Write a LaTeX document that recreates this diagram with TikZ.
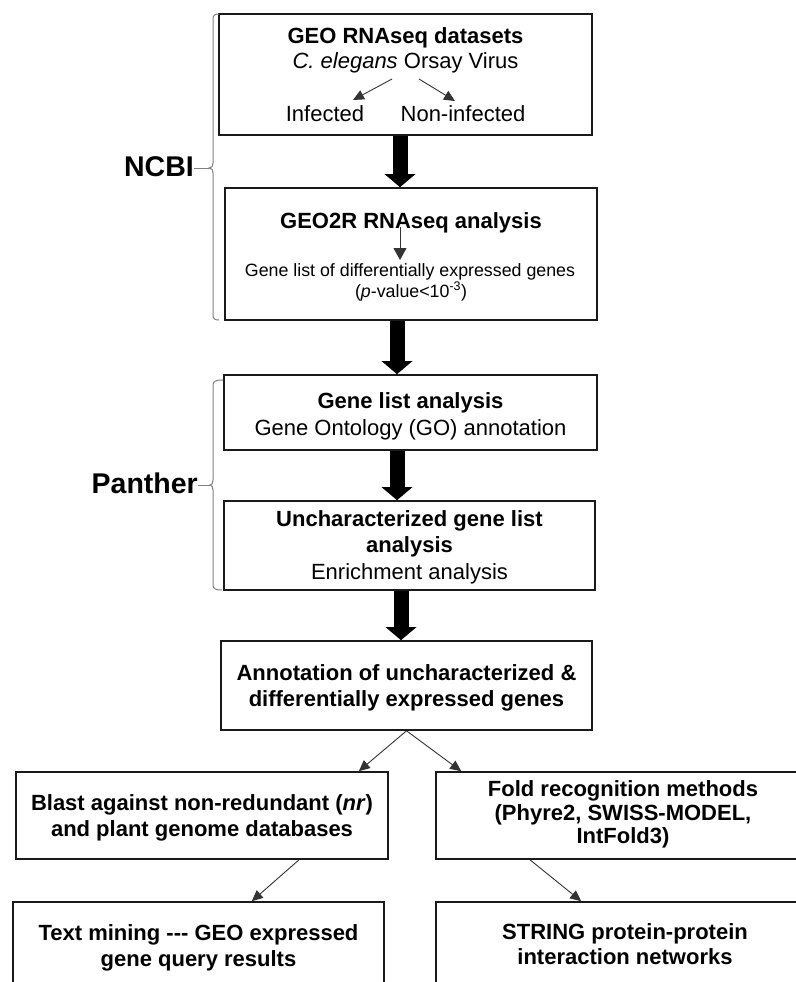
\documentclass[tikz,border=0pt]{standalone}
\usepackage{fontspec}
\setmainfont{Liberation Sans}
\usetikzlibrary{arrows.meta,calc}
\definecolor{boxline}{HTML}{1A1A1A}
\definecolor{bracegray}{HTML}{808080}
\definecolor{conn}{HTML}{333333}
\tikzset{
  box/.style={draw=boxline, line width=1.6pt, inner sep=0pt, fill=white},
  txt/.style={inner sep=0pt, anchor=base, font=\fontsize{22}{26}\selectfont},
  ttl/.style={inner sep=0pt, anchor=base, font=\fontsize{22}{26}\selectfont\bfseries},
  small/.style={inner sep=0pt, anchor=base, font=\fontsize{17.8}{21}\selectfont},
  lbl/.style={inner sep=0pt, anchor=base east, font=\fontsize{28.5}{30}\selectfont\bfseries},
  bigarrow/.style={draw=black, line width=15pt, -{Triangle[width=30pt,length=13pt]}},
  thinarrow/.style={draw=conn, line width=0.9pt, -{Triangle[width=10pt,length=11pt]}},
  bracepath/.style={draw=bracegray, line width=1pt},
}
\begin{document}
\begin{tikzpicture}[x=1pt,y=-1pt]
\useasboundingbox[fill=white] (0,0) rectangle (795,982);

% boxes
\node[box, minimum width=373pt, minimum height=121pt] (b1) at (405.5,74.5) {};
\node[box, minimum width=372pt, minimum height=132pt] (b2) at (411,254) {};
\node[box, minimum width=373pt, minimum height=75pt] (b3) at (410.5,412.5) {};
\node[box, minimum width=371pt, minimum height=89pt] (b4) at (409.5,545.5) {};
\node[box, minimum width=371pt, minimum height=89pt] (b5) at (406.5,685.5) {};
\node[box, minimum width=372pt, minimum height=87pt] (b6) at (202,815.5) {};
\node[box, minimum width=374pt, minimum height=87pt] (b7) at (623,815.5) {};
\node[box, minimum width=371pt, minimum height=93pt] (b8) at (198.5,948.5) {};
\node[box, minimum width=378pt, minimum height=93pt] (b9) at (625,948.5) {};

% box 1 texts
\node[ttl] (t1a) at (405.5,43.5) {GEO RNAseq datasets};
\node[txt] (t1b) at (405.5,69) {\textit{C. elegans} Orsay Virus};
\node[txt] (inf) at (325,121.7) {Infected};
\node[txt] (noninf) at (463,121.7) {Non-infected};
\coordinate (s1) at (392,79);
\coordinate (e1) at (353,100);
\coordinate (s2) at (419,79);
\coordinate (e2) at (455,101);
\draw[thinarrow] (s1) -- (e1);
\draw[thinarrow] (s2) -- (e2);

% box 2 texts
\node[ttl] (t2a) at (411,228.3) {GEO2R RNAseq analysis};
\node[small] (t2b) at (410,276.7) {Gene list of differentially expressed genes};
\node[small] (t2c) at (411,297) {(\textit{p}-value<10\textsuperscript{-3})};
\coordinate (s3) at (400,227);
\coordinate (e3) at (400,260);
\draw[thinarrow, -{Triangle[width=13pt,length=12pt]}] (s3) -- (e3);

% box 3
\node[ttl] (t3a) at (410.5,408) {Gene list analysis};
\node[txt] (t3b) at (410.5,435) {Gene Ontology (GO) annotation};

% box 4
\node[ttl] (t4a) at (409.5,526.7) {Uncharacterized gene list};
\node[ttl] (t4b) at (409.5,552.7) {analysis};
\node[txt] (t4c) at (409.5,579.3) {Enrichment analysis};

% box 5
\node[ttl] (t5a) at (406.5,680) {Annotation of uncharacterized \&};
\node[ttl] (t5b) at (406.5,706) {differentially expressed genes};

% box 6
\node[ttl] (t6a) at (202,810) {Blast against non-redundant (\textit{nr})};
\node[ttl] (t6b) at (202,836) {and plant genome databases};

% box 7
\node[ttl] (t7a) at (623,796) {Fold recognition methods};
\node[ttl] (t7b) at (623,820) {(Phyre2, SWISS-MODEL,};
\node[ttl] (t7c) at (623,843.5) {IntFold3)};

% box 8
\node[ttl] (t8a) at (198.5,940) {Text mining -\kern0pt-\kern0pt- GEO expressed};
\node[ttl] (t8b) at (198.5,966) {gene query results};

% box 9
\node[ttl] (t9a) at (625,939) {STRING protein-protein};
\node[ttl] (t9b) at (625,964) {interaction networks};

% big arrows
\draw[bigarrow] ($(b1.south)+(-5.5,0)$) -- ($(b1.south |- b2.north)+(-5.5,0)$);
\draw[bigarrow] ($(b2.south)+(-14,0)$) -- ($(b2.south |- b3.north)+(-14,0)$);
\draw[bigarrow] ($(b3.south)+(-13.5,0)$) -- ($(b3.south |- b4.north)+(-13.5,0)$);
\draw[bigarrow] ($(b4.south)+(-8.5,0)$) -- ($(b4.south |- b5.north)+(-8.5,0)$);

% thin arrows at bottom
\draw[thinarrow] (b5.south) -- ($(b6.north east)+(-30,0)$);
\draw[thinarrow] (b5.south) -- ($(b7.north west)+(26,0)$);
\draw[thinarrow] ($(b6.south)+(97,0)$) -- ($(b8.north east)+(-133,0)$);
\draw[thinarrow] ($(b7.south)+(-93,0)$) -- ($(b9.north west)+(146,0)$);

% labels and braces
\node[lbl] (ncbi) at (194,176) {NCBI};
\node[lbl] (panther) at (198,493) {Panther};
\coordinate (ncbitip) at (209,168);
\coordinate (panthertip) at (210,485);
\draw[bracepath] (219,14) .. controls (215,14) and (213,15) .. (213,19) -- (213,163)
  .. controls (213,166) and (212,168) .. (ncbitip)
  .. controls (212,168) and (213,170) .. (213,173) -- (213,315)
  .. controls (213,319) and (215,320) .. (219,320);
\draw[bracepath] (ncbitip) -- (ncbitip -| ncbi.east);
\draw[bracepath] (223,380) .. controls (216,380) and (213,381) .. (213,385) -- (213,480)
  .. controls (213,483) and (212,485) .. (panthertip)
  .. controls (212,485) and (213,487) .. (213,490) -- (213,585)
  .. controls (213,589) and (216,590) .. (222,590);
\draw[bracepath] (panthertip) -- (panthertip -| panther.east);
\end{tikzpicture}
\end{document}
